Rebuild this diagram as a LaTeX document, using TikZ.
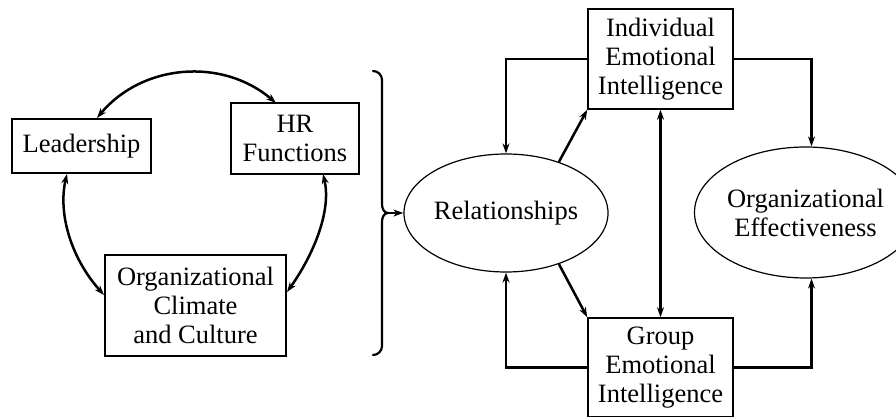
\documentclass[tikz,border=0pt]{standalone}
\usepackage{fontspec}
\setmainfont{Liberation Serif}
\usetikzlibrary{arrows.meta,shapes.geometric}
\begin{document}
\begin{tikzpicture}[x=1pt,y=1pt,
  >={Stealth[length=10pt,width=7pt]},
  lbl/.style={font=\fontsize{26.5}{29}\selectfont, align=center, inner sep=0pt},
  box/.style={lbl, draw, line width=1.5pt, rectangle},
  oval/.style={lbl, draw, line width=1.2pt, ellipse},
  conn/.style={line width=2.5pt},
]
\useasboundingbox (0,0) rectangle (896,417);

% left cycle
\node[box, minimum width=139pt, minimum height=54pt] (lead) at (81.5,271) {Leadership};
\node[box, minimum width=128pt, minimum height=71pt] (hr) at (295,278.5) {HR\\Functions};
\node[box, minimum width=181pt, minimum height=101pt] (occ) at (195.5,111.5) {Organizational\\Climate\\and Culture};

\coordinate (tl) at (97,299);
\coordinate (thr) at (276,314);
\coordinate (bl) at (67,243);
\coordinate (bhr) at (323,243);
\coordinate (ol) at (104,122);
\coordinate (or) at (287,125);
\draw[conn,<->] (tl) .. controls (142,353) and (222,360) .. (thr);
\draw[conn,<->] (bl) .. controls (58,205) and (70,160) .. (ol);
\draw[conn,<->] (bhr) .. controls (332,205) and (312,160) .. (or);

% brace
\coordinate (tip) at (388,204);
\draw[line width=2.2pt, line cap=round] (373,346) to[out=0,in=90] (382,337) -- (382,213)
  to[out=-90,in=180] (tip) to[out=180,in=90] (382,195) -- (382,71) to[out=-90,in=0] (373,62);

% right part
\node[oval, minimum width=170pt, minimum height=118pt] (rel) at (506,204) {Relationships};
\node[box, minimum width=145pt, minimum height=100pt] (iei) at (660.5,358) {Individual\\Emotional\\Intelligence};
\node[box, minimum width=145pt, minimum height=99pt] (gei) at (660.5,49.5) {Group\\Emotional\\Intelligence};
\node[oval, minimum width=177pt, minimum height=131pt] (oe) at (805.5,204.5) {Organizational\\Effectiveness};

\draw[conn,->] (tip) -- (rel.west);
\draw[conn,->] (iei.west) -| (rel.north);
\draw[conn,->] (gei.west) -| (rel.south);
\draw[conn,->] (rel.44) -- (iei.south west);
\draw[conn,->] (rel.-44) -- (gei.north west);
\draw[conn,<->] (iei.south) -- (gei.north);
\draw[conn,->] (iei.east) -| ([xshift=6pt]oe.north);
\draw[conn,->] (gei.east) -| ([xshift=6pt]oe.south);
\end{tikzpicture}
\end{document}
